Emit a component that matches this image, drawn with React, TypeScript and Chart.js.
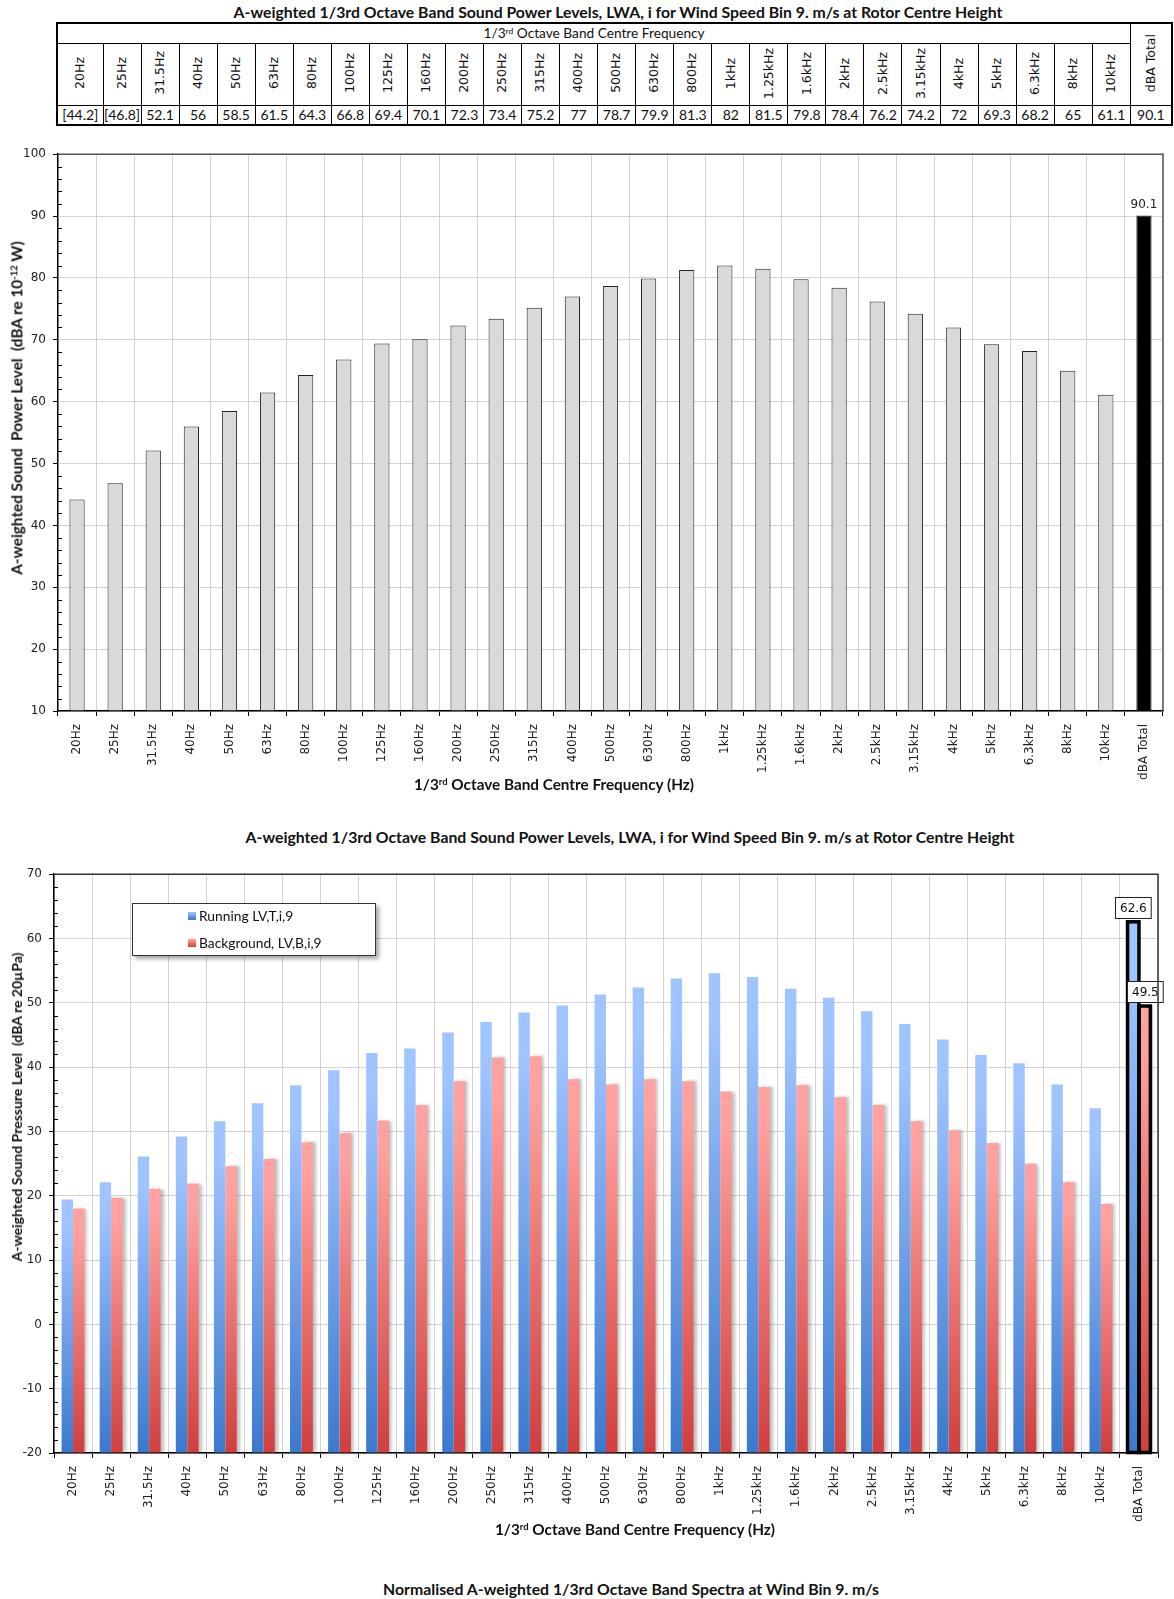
import React, { useEffect, useRef } from "react";
import { Chart, registerables } from "chart.js";

Chart.register(...registerables);

// 1/3 octave band centre frequencies
const bandLabels = [
  "20Hz", "25Hz", "31.5Hz", "40Hz", "50Hz", "63Hz", "80Hz", "100Hz", "125Hz", "160Hz",
  "200Hz", "250Hz", "315Hz", "400Hz", "500Hz", "630Hz", "800Hz", "1kHz", "1.25kHz", "1.6kHz",
  "2kHz", "2.5kHz", "3.15kHz", "4kHz", "5kHz", "6.3kHz", "8kHz", "10kHz",
];
const totalLabel = "dBA Total";
const categories = [...bandLabels, totalLabel];

// A-weighted sound power levels LWA,i (dBA re 1e-12 W)
const soundPowerLevels = [
  44.2, 46.8, 52.1, 56, 58.5, 61.5, 64.3, 66.8, 69.4, 70.1,
  72.3, 73.4, 75.2, 77, 78.7, 79.9, 81.3, 82, 81.5, 79.8,
  78.4, 76.2, 74.2, 72, 69.3, 68.2, 65, 61.1,
];
const soundPowerTotal = 90.1;
// bands whose values are shown in brackets in the table
const bracketedBands = [0, 1];

// Normalised A-weighted sound pressure spectra (dBA re 20 µPa)
const runningLevels = [
  19.4, 22.1, 26.1, 29.2, 31.6, 34.4, 37.2, 39.5, 42.2, 42.9,
  45.4, 47.0, 48.5, 49.6, 51.3, 52.4, 53.8, 54.6, 54.0, 52.2,
  50.8, 48.7, 46.7, 44.3, 41.9, 40.6, 37.3, 33.6,
];
const runningTotal = 62.6;
const backgroundLevels = [
  18.0, 19.7, 21.1, 21.9, 24.6, 25.7, 28.3, 29.7, 31.7, 34.1,
  37.8, 41.5, 41.7, 38.1, 37.3, 38.1, 37.8, 36.2, 36.9, 37.2,
  35.3, 34.1, 31.6, 30.2, 28.2, 25.0, 22.1, 18.7,
];
const backgroundTotal = 49.5;

const powerAxis = { min: 10, max: 100, step: 10 };
const pressureAxis = { min: -20, max: 70, step: 10 };

const TICK_FONT = "'DejaVu Sans', Verdana, sans-serif";
const TEXT_FONT = "Lato, 'Open Sans', sans-serif";

const blueStops = ["#a0c4ff", "#3b79cd"];
const redStops = ["#ffa19e", "#cf3f3e"];

const minorTicks = {
  id: "minorTicks",
  afterDraw(chart: any) {
    const y = chart.scales.y;
    const ctx = chart.ctx;
    const left = chart.chartArea.left;
    ctx.save();
    ctx.strokeStyle = "#000";
    ctx.lineWidth = 1;
    for (let v = y.min; v <= y.max; v += 2) {
      if (v % 10 === 0) continue;
      const py = Math.round(y.getPixelForValue(v)) + 0.5;
      ctx.beginPath();
      ctx.moveTo(left, py);
      ctx.lineTo(left + 4, py);
      ctx.stroke();
    }
    ctx.restore();
  },
};

const makeFrame = (color: string) => ({
  id: "frame",
  afterDraw(chart: any) {
    const { top, right, left, bottom } = chart.chartArea;
    const ctx = chart.ctx;
    ctx.save();
    ctx.strokeStyle = color;
    ctx.lineWidth = 1.5;
    ctx.beginPath();
    ctx.moveTo(left, top);
    ctx.lineTo(right, top);
    ctx.lineTo(right, bottom);
    ctx.stroke();
    ctx.restore();
  },
});

// label above the total bar of the power chart
const powerTotalLabel = {
  id: "powerTotalLabel",
  afterDatasetsDraw(chart: any) {
    const meta = chart.getDatasetMeta(0);
    const el = meta.data[meta.data.length - 1];
    const value = chart.data.datasets[0].data[meta.data.length - 1];
    const ctx = chart.ctx;
    ctx.save();
    ctx.font = `12px ${TICK_FONT}`;
    ctx.fillStyle = "#222";
    ctx.textAlign = "center";
    ctx.textBaseline = "bottom";
    ctx.fillText(String(value), el.x, el.y - 5);
    ctx.restore();
  },
};

// soft shadow to the right of the background bars
const barShadow = {
  id: "barShadow",
  beforeDatasetDraw(chart: any, args: any) {
    if (args.index !== 1) return;
    const ctx = chart.ctx;
    ctx.save();
    ctx.shadowColor = "rgba(0,0,0,0.25)";
    ctx.shadowOffsetX = 3;
    ctx.shadowOffsetY = 0;
    ctx.shadowBlur = 3;
  },
  afterDatasetDraw(chart: any, args: any) {
    if (args.index !== 1) return;
    chart.ctx.restore();
  },
};

// heavy outline and boxed value labels on the total bars
const pressureTotals = {
  id: "pressureTotals",
  afterDatasetsDraw(chart: any) {
    const ctx = chart.ctx;
    chart.data.datasets.forEach((ds: any, di: number) => {
      const meta = chart.getDatasetMeta(di);
      const idx = meta.data.length - 1;
      const el = meta.data[idx];
      const { x, y, base, width } = el.getProps(["x", "y", "base", "width"], true);
      ctx.save();
      ctx.strokeStyle = "#000";
      ctx.lineWidth = 3.5;
      ctx.strokeRect(x - width / 2, y, width, base - y);
      ctx.restore();
    });
    chart.data.datasets.forEach((ds: any, di: number) => {
      const meta = chart.getDatasetMeta(di);
      const idx = meta.data.length - 1;
      const el = meta.data[idx];
      const { x, y } = el.getProps(["x", "y"], true);
      const text = String(ds.data[idx]);
      ctx.save();
      ctx.font = `12px ${TICK_FONT}`;
      const w = ctx.measureText(text).width + 9;
      const h = 21;
      const bx = Math.round(x - w / 2) + 0.5;
      const by = Math.round(y - 4 - h) + 0.5;
      ctx.fillStyle = "#fff";
      ctx.fillRect(bx, by, w, h);
      ctx.strokeStyle = "#222";
      ctx.lineWidth = 1;
      ctx.strokeRect(bx, by, w, h);
      ctx.fillStyle = "#111";
      ctx.textAlign = "center";
      ctx.textBaseline = "middle";
      ctx.fillText(text, bx + w / 2, by + h / 2 + 1);
      ctx.restore();
    });
  },
};

const gradientFill = (stops: string[]) => (ctx: any) => {
  const chart = ctx.chart;
  const y = chart.scales && chart.scales.y;
  if (!y || ctx.type !== "data" || typeof ctx.raw !== "number") return stops[0];
  const top = y.getPixelForValue(ctx.raw);
  const bottom = y.getPixelForValue(pressureAxis.min);
  if (!isFinite(top) || !isFinite(bottom) || bottom - top < 1) return stops[0];
  const g = chart.ctx.createLinearGradient(0, top, 0, bottom);
  g.addColorStop(0, stops[0]);
  g.addColorStop(0.1, stops[0]);
  g.addColorStop(1, stops[1]);
  return g;
};

const tickFont = { family: TICK_FONT, size: 12 };

function xScale(height: number) {
  return {
    grid: { color: "#d3d3d3", tickColor: "#000", tickLength: 5, offset: true, lineWidth: 1 },
    border: { color: "#000", width: 1.5 },
    ticks: {
      font: tickFont,
      color: "#222",
      minRotation: 90,
      maxRotation: 90,
      padding: 8,
      autoSkip: false,
    },
    afterFit: (s: any) => {
      s.height = height;
    },
  };
}

function yScale(axis: { min: number; max: number; step: number }, width: number) {
  return {
    min: axis.min,
    max: axis.max,
    grid: { color: "#d3d3d3", tickColor: "#000", tickLength: 5, lineWidth: 1 },
    border: { color: "#000", width: 1.5 },
    ticks: { stepSize: axis.step, font: tickFont, color: "#222", padding: 7 },
    afterFit: (s: any) => {
      s.width = width;
    },
  };
}

const titleStyle: React.CSSProperties = {
  position: "absolute",
  fontFamily: TEXT_FONT,
  fontWeight: 700,
  fontSize: 15.8,
  color: "#111",
  whiteSpace: "pre",
  transform: "translate(-50%, -50%)",
  lineHeight: 1,
};

const axisTitleStyle: React.CSSProperties = { ...titleStyle, fontSize: 15.3 };

const supStyle: React.CSSProperties = {
  fontSize: "0.62em",
  position: "relative",
  top: "-0.55em",
  verticalAlign: "baseline",
};

const cellStyle: React.CSSProperties = {
  border: "1px solid #000",
  padding: 0,
  textAlign: "center",
  verticalAlign: "middle",
  fontFamily: TEXT_FONT,
  fontSize: 13.7,
  color: "#111",
  lineHeight: 1,
  overflow: "hidden",
};

const verticalText: React.CSSProperties = {
  display: "inline-block",
  writingMode: "vertical-rl",
  transform: "rotate(180deg)",
  fontFamily: TICK_FONT,
  fontSize: 12.5,
  whiteSpace: "nowrap",
};

function formatTableValue(v: number, i: number) {
  return bracketedBands.includes(i) ? `[${v}]` : String(v);
}

export default function App() {
  const powerRef = useRef<HTMLCanvasElement>(null);
  const pressureRef = useRef<HTMLCanvasElement>(null);

  useEffect(() => {
    const powerChart = new Chart(powerRef.current as HTMLCanvasElement, {
      type: "bar",
      data: {
        labels: categories,
        datasets: [
          {
            data: [...soundPowerLevels, soundPowerTotal],
            backgroundColor: categories.map((c) => (c === totalLabel ? "#000" : "#d9d9d9")),
            borderColor: "#222",
            borderWidth: 1,
            base: powerAxis.min,
            barPercentage: 0.4,
            categoryPercentage: 1,
          } as any,
        ],
      },
      options: {
        animation: false,
        responsive: false,
        maintainAspectRatio: false,
        devicePixelRatio: 1,
        layout: { padding: { top: 14, right: 11, left: 0, bottom: 0 } },
        plugins: { legend: { display: false }, tooltip: { enabled: false } },
        scales: {
          x: xScale(89) as any,
          y: yScale(powerAxis, 58) as any,
        },
      },
      plugins: [minorTicks, makeFrame("#555"), powerTotalLabel],
    });

    const pressureChart = new Chart(pressureRef.current as HTMLCanvasElement, {
      type: "bar",
      data: {
        labels: categories,
        datasets: [
          {
            label: "Running LV,T,i,9",
            data: [...runningLevels, runningTotal],
            backgroundColor: gradientFill(blueStops),
            borderWidth: 0,
            base: pressureAxis.min,
            barPercentage: 1,
            categoryPercentage: 0.6,
          } as any,
          {
            label: "Background, LV,B,i,9",
            data: [...backgroundLevels, backgroundTotal],
            backgroundColor: gradientFill(redStops),
            borderWidth: 0,
            base: pressureAxis.min,
            barPercentage: 1,
            categoryPercentage: 0.6,
          } as any,
        ],
      },
      options: {
        animation: false,
        responsive: false,
        maintainAspectRatio: false,
        devicePixelRatio: 1,
        layout: { padding: { top: 14, right: 16, left: 0, bottom: 0 } },
        plugins: { legend: { display: false }, tooltip: { enabled: false } },
        scales: {
          x: xScale(87) as any,
          y: yScale(pressureAxis, 54) as any,
        },
      },
      plugins: [barShadow, minorTicks, makeFrame("#333"), pressureTotals],
    });

    return () => {
      powerChart.destroy();
      pressureChart.destroy();
    };
  }, []);

  const legendSwatch = (stops: string[]): React.CSSProperties => ({
    position: "absolute",
    left: 55,
    width: 8,
    height: 8,
    background: `linear-gradient(${stops[0]}, ${stops[1]})`,
  });

  return (
    <div
      style={{
        position: "absolute",
        left: 0,
        top: 0,
        width: 1174,
        height: 1599,
        background: "#fff",
        overflow: "hidden",
      }}
    >
      <div style={{ ...titleStyle, left: 618, top: 12 }}>
        A-weighted 1/3rd Octave Band Sound Power Levels, LWA, i for Wind Speed Bin 9. m/s at Rotor Centre Height
      </div>

      <table
        style={{
          position: "absolute",
          left: 56,
          top: 22,
          borderCollapse: "collapse",
          tableLayout: "fixed",
          width: 46 + 27 * 38.05 + 41,
          border: "2px solid #000",
        }}
      >
        <colgroup>
          <col style={{ width: 46 }} />
          {bandLabels.slice(1).map((b) => (
            <col key={b} style={{ width: 38.05 }} />
          ))}
          <col style={{ width: 41 }} />
        </colgroup>
        <tbody>
          <tr style={{ height: 20 }}>
            <td colSpan={bandLabels.length} style={cellStyle}>
              1/3<span style={supStyle}>rd</span> Octave Band Centre Frequency
            </td>
            <td rowSpan={2} style={cellStyle}>
              <span style={verticalText}>{totalLabel}</span>
            </td>
          </tr>
          <tr style={{ height: 62 }}>
            {bandLabels.map((b) => (
              <td key={b} style={cellStyle}>
                <span style={verticalText}>{b}</span>
              </td>
            ))}
          </tr>
          <tr style={{ height: 20 }}>
            {soundPowerLevels.map((v, i) => (
              <td key={i} style={{ ...cellStyle, fontSize: 14 }}>
                {formatTableValue(v, i)}
              </td>
            ))}
            <td style={{ ...cellStyle, fontSize: 14 }}>{String(soundPowerTotal)}</td>
          </tr>
        </tbody>
      </table>

      <canvas
        ref={powerRef}
        width={1174}
        height={660}
        style={{ position: "absolute", left: 0, top: 140, width: 1174, height: 660 }}
      />
      <div style={{ ...axisTitleStyle, left: 17, top: 408, transform: "translate(-50%, -50%) rotate(-90deg)" }}>
        A-weighted Sound  Power Level  (dBA re 10<span style={supStyle}>-12</span> W)
      </div>
      <div style={{ ...axisTitleStyle, left: 554, top: 785 }}>
        1/3<span style={supStyle}>rd</span> Octave Band Centre Frequency (Hz)
      </div>

      <div style={{ ...titleStyle, left: 630, top: 837 }}>
        A-weighted 1/3rd Octave Band Sound Power Levels, LWA, i for Wind Speed Bin 9. m/s at Rotor Centre Height
      </div>

      <canvas
        ref={pressureRef}
        width={1174}
        height={680}
        style={{ position: "absolute", left: 0, top: 860, width: 1174, height: 680 }}
      />
      <div
        style={{
          position: "absolute",
          left: 132,
          top: 903,
          width: 244,
          height: 53,
          boxSizing: "border-box",
          border: "1px solid #333",
          background: "#fff",
          boxShadow: "3px 3px 4px rgba(0,0,0,0.35)",
          fontFamily: TEXT_FONT,
          fontSize: 13.8,
          color: "#111",
        }}
      >
        <div style={{ ...legendSwatch(blueStops), top: 8 }} />
        <div style={{ position: "absolute", left: 66, top: 3, whiteSpace: "nowrap" }}>Running LV,T,i,9</div>
        <div style={{ ...legendSwatch(redStops), top: 35 }} />
        <div style={{ position: "absolute", left: 66, top: 30, whiteSpace: "nowrap" }}>Background, LV,B,i,9</div>
      </div>
      <div style={{ ...axisTitleStyle, fontSize: 14, left: 17, top: 1107, transform: "translate(-50%, -50%) rotate(-90deg)" }}>
        A-weighted Sound Pressure Level  (dBA re 20µPa)
      </div>
      <div style={{ ...axisTitleStyle, left: 635, top: 1530 }}>
        1/3<span style={supStyle}>rd</span> Octave Band Centre Frequency (Hz)
      </div>

      <div style={{ ...titleStyle, left: 631, top: 1589 }}>
        Normalised A-weighted 1/3rd Octave Band Spectra at Wind Bin 9. m/s
      </div>
    </div>
  );
}
